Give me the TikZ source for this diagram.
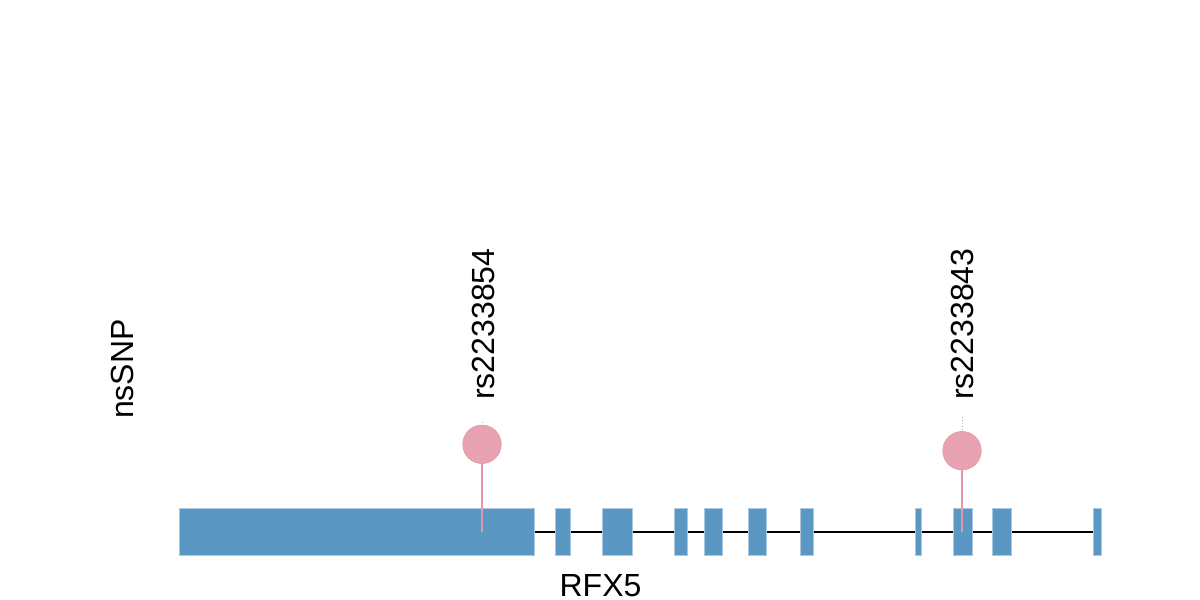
\documentclass[tikz,border=0pt]{standalone}
\usepackage{fontspec}
\setmainfont{Liberation Sans}
\usetikzlibrary{backgrounds}
\definecolor{exonblue}{RGB}{91,151,195}
\definecolor{exonedge}{RGB}{170,200,225}
\definecolor{snppink}{RGB}{232,162,178}
\definecolor{snpedge}{RGB}{226,150,170}
\definecolor{stempink}{RGB}{230,150,172}
\begin{document}
\begin{tikzpicture}[x=1pt,y=-1pt,
  exon/.style={rectangle, fill=exonblue, draw=exonedge, line width=0.6pt, inner sep=0pt, minimum height=47pt},
  snp/.style={circle, fill=snppink, draw=snpedge, line width=0.6pt, inner sep=0pt, minimum size=38.5pt},
  stem/.style={draw=stempink, line width=1.8pt},
  tick/.style={draw=gray!60, line width=1pt, dotted},
  lbl/.style={font=\fontsize{32}{38}\selectfont, inner sep=0pt}]
\useasboundingbox (0,0) rectangle (1200,600);
% exons
\node[exon, minimum width=355pt] (e1) at (356.5,531.5) {};
\node[exon, minimum width=15.7pt] (e2) at (562.85,531.5) {};
\node[exon, minimum width=30pt] (e3) at (617,531.5) {};
\node[exon, minimum width=13pt] (e4) at (680.5,531.5) {};
\node[exon, minimum width=18pt] (e5) at (713.7,531.5) {};
\node[exon, minimum width=18.3pt] (e6) at (757.15,531.5) {};
\node[exon, minimum width=13pt] (e7) at (807.2,531.5) {};
\node[exon, minimum width=6.3pt] (e8) at (918.15,531.5) {};
\node[exon, minimum width=19.4pt] (e9) at (963,531.5) {};
\node[exon, minimum width=19pt] (e10) at (1001.5,531.5) {};
\node[exon, minimum width=7.7pt] (e11) at (1097.15,531.5) {};
\begin{scope}[on background layer]
\draw[black, line width=2pt] (e1.east) -- (e11.west);
\end{scope}
% SNP 1
\coordinate (s1) at (482,444.3);
\coordinate (b1) at (482,532);
\coordinate (t1a) at (482,422);
\coordinate (t1b) at (482,426);
\draw[stem] (s1) -- (b1);
\draw[tick] (t1a) -- (t1b);
\node[snp] (c1) at (s1) {};
% SNP 2
\coordinate (s2) at (962,450.7);
\coordinate (b2) at (962,532);
\coordinate (t2a) at (962,417);
\coordinate (t2b) at (962,432);
\draw[stem] (s2) -- (b2);
\draw[tick] (t2a) -- (t2b);
\node[snp] (c2) at (s2) {};
% labels
\node[lbl, rotate=90, anchor=base west] (l1) at (494,400) {rs2233854};
\node[lbl, rotate=90, anchor=base west] (l2) at (973,400) {rs2233843};
\node[lbl, rotate=90, anchor=base west] (ns) at (133,419) {nsSNP};
\node[lbl, anchor=base] (gene) at (600.5,596.5) {RFX5};
\end{tikzpicture}
\end{document}
